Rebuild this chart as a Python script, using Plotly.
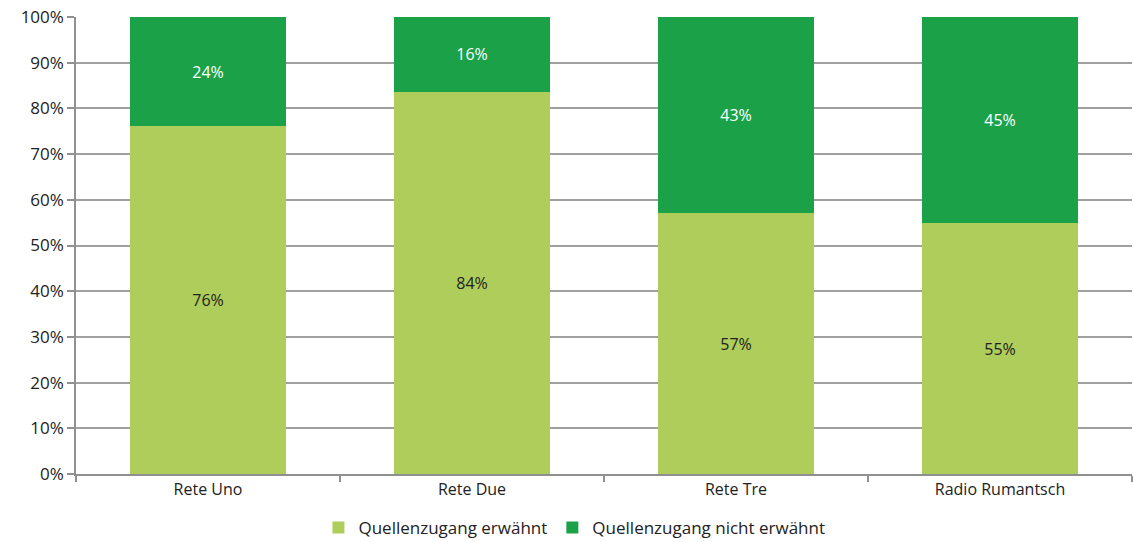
import plotly.graph_objects as go

categories = ["Rete Uno", "Rete Due", "Rete Tre", "Radio Rumantsch"]
erwaehnt = [76.1, 83.6, 57.1, 54.9]
nicht_erwaehnt = [23.9, 16.4, 42.9, 45.1]
y_ticks = [0, 10, 20, 30, 40, 50, 60, 70, 80, 90, 100]
y_tick_labels = [f"{v}%" for v in y_ticks]

FONT = "'Open Sans', sans-serif"

fig = go.Figure()
fig.add_trace(go.Bar(
    x=categories, y=erwaehnt, name="Quellenzugang erwähnt",
    marker=dict(color="#AFCD5A", line=dict(width=0)),
    texttemplate="%{y:.0f}%", textposition="inside",
    insidetextanchor="middle",
    textfont=dict(color="#222222", size=16, family=FONT),
    hoverinfo="skip",
))
fig.add_trace(go.Bar(
    x=categories, y=nicht_erwaehnt, name="Quellenzugang nicht erwähnt",
    marker=dict(color="#1BA249", line=dict(width=0)),
    texttemplate="%{y:.0f}%", textposition="inside",
    insidetextanchor="middle",
    textfont=dict(color="#FFFFFF", size=16, family=FONT),
    hoverinfo="skip",
))

fig.update_layout(
    barmode="stack",
    bargap=0.41,
    width=1133, height=542,
    margin=dict(l=76, r=1, t=17, b=68),
    plot_bgcolor="white", paper_bgcolor="white",
    font=dict(family=FONT, size=16, color="#222222"),
    legend=dict(
        orientation="h", x=0.472, xanchor="center",
        yref="container", y=14 / 542, yanchor="middle",
        font=dict(size=17, color="#222222"), traceorder="normal",
        itemwidth=30,
    ),
    showlegend=True,
)
fig.update_yaxes(
    range=[0, 100], tickvals=y_ticks, ticktext=y_tick_labels,
    showgrid=True, gridcolor="#A0A0A0", gridwidth=1.5,
    showline=True, linecolor="#909090", linewidth=1.5,
    ticks="outside", ticklen=7, tickcolor="#909090", tickwidth=1.5,
    tickfont=dict(size=17, color="#222222"), zeroline=False,
)
fig.update_xaxes(
    showline=True, linecolor="#909090", linewidth=1.5,
    ticks="outside", tickson="boundaries", ticklen=6,
    tickcolor="#909090", tickwidth=1.5,
    tickfont=dict(size=16, color="#222222"), showgrid=False,
)

fig.write_html(
    "out.html",
    config={"displayModeBar": False},
    post_script="document.body.style.margin='0';document.body.style.overflow='hidden';",
)
